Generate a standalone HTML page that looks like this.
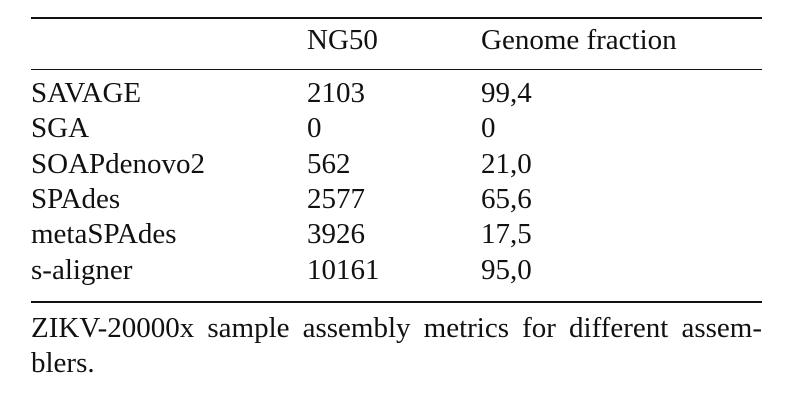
<!DOCTYPE html>
<html><head><meta charset="utf-8"><style>
body{margin:0;width:787px;height:402px;background:#fff;position:relative;overflow:hidden;font-family:"Liberation Serif",serif;font-size:29px;color:#111}
.t{position:absolute;white-space:nowrap;line-height:1}
.r{position:absolute;left:31px;width:731px;background:#111}
</style></head><body>
<div class="r" style="top:17px;height:2px"></div>
<div class="r" style="top:69px;height:1px"></div>
<div class="r" style="top:301px;height:2px"></div>
<div id="tbl"></div>
<div class="t" style="left:31px;top:314px;width:731px;text-align:justify;text-align-last:justify">ZIKV-20000x sample assembly metrics for different assem-</div>
<div class="t" style="left:31px;top:349px">blers.</div>
<script>
const headers=["","NG50","Genome fraction"];
const names=["SAVAGE","SGA","SOAPdenovo2","SPAdes","metaSPAdes","s-aligner"];
const ng50=["2103","0","562","2577","3926","10161"];
const frac=["99,4","0","21,0","65,6","17,5","95,0"];
const tbl=document.getElementById('tbl');
const colX=[31,307,481];
function add(txt,x,base,name){
  const d=document.createElement('div');
  d.className='t';
  
  
  d.style.left=x+'px';d.style.top=(base-26)+'px';
  d.textContent=txt;tbl.appendChild(d);
}
headers.forEach((h,i)=>{if(h)add(h,colX[i],52,'header-'+i);});
names.forEach((n,i)=>{
  const b=105+i*35.3;
  add(n,colX[0],b,'row-name-'+i);
  add(ng50[i],colX[1],b,'row-ng50-'+i);
  add(frac[i],colX[2],b,'row-fraction-'+i);
});
</script>
</body></html>
